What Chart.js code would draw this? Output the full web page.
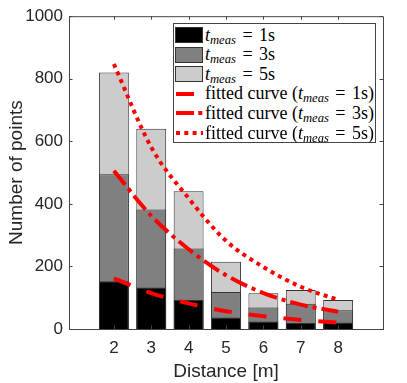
<!DOCTYPE html>
<html>
<head>
<meta charset="utf-8">
<script src="https://cdn.jsdelivr.net/npm/chart.js@4.4.1/dist/chart.umd.min.js"></script>
<style>
  html, body { margin: 0; padding: 0; background: #fff; }
  #wrap { position: relative; width: 407px; height: 383px; }
  #legend {
    position: absolute; left: 173px; top: 23px; width: 203px; height: 120px;
    box-sizing: border-box; border: 1px solid #444; background: #fff;
    font-family: "Liberation Serif", "DejaVu Serif", serif; font-size: 18px; color: #000;
  }
  .row { position: absolute; left: 0; height: 20px; display: flex; align-items: center; white-space: nowrap; }
  .row svg { margin-left: 1px; margin-right: 2px; flex: none; }
  .row sub { font-size: 0.7em; vertical-align: -0.25em; line-height: 0; }
  .eq { padding: 0 2px; }
</style>
</head>
<body>
<div id="wrap">
  <canvas id="chart" width="407" height="383"></canvas>
  <div id="legend"></div>
</div>
<script>
// data
const distances = [2, 3, 4, 5, 6, 7, 8];
const points1s = [153, 133, 93, 37, 24, 19, 21];
const points3s = [495, 382, 257, 118, 69, 81, 60];
const points5s = [820, 640, 440, 215, 114, 125, 93];
const fit1s = [162, 115, 82, 57, 41, 29, 20];
const fit3s = [506, 362, 255, 172, 115, 78, 55];
const fit5s = [847, 581, 418, 282, 198, 135, 93];
const yTicks = [0, 200, 400, 600, 800, 1000];

const toXY = (vals) => vals.map((v, i) => ({ x: distances[i], y: v }));

const axisColor = "#444";
const textColor = "#262626";

// top/right box lines and inward tick marks
const boxPlugin = {
  id: "box",
  afterDraw(chart) {
    const { ctx, chartArea: a, scales } = chart;
    ctx.save();
    ctx.strokeStyle = axisColor;
    ctx.lineWidth = 1;
    ctx.beginPath();
    ctx.moveTo(a.left, a.top + 0.5);
    ctx.lineTo(a.right + 0.5, a.top + 0.5);
    ctx.lineTo(a.right + 0.5, a.bottom);
    const tl = 3.5;
    distances.forEach((d) => {
      const px = Math.round(scales.x.getPixelForValue(d)) + 0.5;
      ctx.moveTo(px, a.bottom);
      ctx.lineTo(px, a.bottom - tl);
      ctx.moveTo(px, a.top);
      ctx.lineTo(px, a.top + tl);
    });
    yTicks.forEach((t) => {
      const py = Math.round(scales.y.getPixelForValue(t)) + 0.5;
      ctx.moveTo(a.left, py);
      ctx.lineTo(a.left + tl, py);
      ctx.moveTo(a.right, py);
      ctx.lineTo(a.right - tl, py);
    });
    ctx.stroke();
    ctx.restore();
  },
};

const barBase = {
  type: "bar",
  grouped: false,
  borderWidth: 1,
  borderColor: "#333",
  barPercentage: 0.8,
  categoryPercentage: 1,
};
const lineBase = {
  type: "line",
  borderColor: "#ff0000",
  borderWidth: 4,
  borderCapStyle: "butt",
  pointRadius: 0,
  fill: false,
  cubicInterpolationMode: "monotone",
  order: 0,
};

const datasets = [
  { ...barBase, label: "t_meas = 1s", data: toXY(points1s), backgroundColor: "#000000", order: 1 },
  { ...barBase, label: "t_meas = 3s", data: toXY(points3s), backgroundColor: "#808080", order: 2 },
  { ...barBase, label: "t_meas = 5s", data: toXY(points5s), backgroundColor: "#cccccc", order: 3 },
  { ...lineBase, label: "fitted curve (t_meas = 1s)", data: toXY(fit1s), borderDash: [18, 17] },
  { ...lineBase, label: "fitted curve (t_meas = 3s)", data: toXY(fit3s), borderDash: [18, 5, 4, 5] },
  { ...lineBase, label: "fitted curve (t_meas = 5s)", data: toXY(fit5s), borderDash: [4, 4.3] },
];

new Chart(document.getElementById("chart").getContext("2d"), {
  type: "bar",
  data: { datasets },
  options: {
    responsive: false,
    animation: false,
    layout: { padding: { top: 16, right: 24, left: 0, bottom: 0 } },
    plugins: { legend: { display: false }, tooltip: { enabled: false } },
    scales: {
      x: {
        type: "linear",
        min: 0.8,
        max: 9.2,
        offset: false,
        afterBuildTicks: (s) => { s.ticks = distances.map((v) => ({ value: v })); },
        afterFit: (s) => { s.height = 54; },
        grid: { display: false, drawTicks: false },
        border: { display: true, color: axisColor, width: 1 },
        ticks: { color: textColor, padding: 9, font: { family: "Liberation Sans", size: 17 } },
        title: {
          display: true, text: "Distance [m]", color: textColor,
          font: { family: "Liberation Sans", size: 19 }, padding: { top: 0, bottom: 0 },
        },
      },
      y: {
        min: 0,
        max: 1000,
        afterBuildTicks: (s) => { s.ticks = yTicks.map((v) => ({ value: v })); },
        afterFit: (s) => { s.width = 69; },
        grid: { display: false, drawTicks: false },
        border: { display: true, color: axisColor, width: 1 },
        ticks: {
          color: textColor, padding: 6, font: { family: "Liberation Sans", size: 17 },
          callback: (v) => String(v),
        },
        title: {
          display: true, text: "Number of points", color: textColor,
          font: { family: "Liberation Sans", size: 19 }, padding: { top: 5, bottom: 0 },
        },
      },
    },
  },
  plugins: [boxPlugin],
});

// legend with math-style labels
const legendRows = [
  { kind: "box", color: "#000000", pre: "", sec: "1s" },
  { kind: "box", color: "#808080", pre: "", sec: "3s" },
  { kind: "box", color: "#cccccc", pre: "", sec: "5s" },
  { kind: "line", dash: "18 17", pre: "fitted curve (", sec: "1s)" },
  { kind: "line", dash: "18 4.3 4 4.3", pre: "fitted curve (", sec: "3s)" },
  { kind: "line", dash: "4 4.3", pre: "fitted curve (", sec: "5s)" },
];
const legendEl = document.getElementById("legend");
legendRows.forEach((r, i) => {
  const row = document.createElement("div");
  row.className = "row";
  row.style.top = (1 + i * 19.6) + "px";
  const icon = r.kind === "box"
    ? `<svg width="28" height="16"><rect x="0.5" y="0.5" width="27" height="15" fill="${r.color}" stroke="#333" stroke-width="1"/></svg>`
    : `<svg width="28" height="16"><line x1="1" y1="8" x2="28" y2="8" stroke="#ff0000" stroke-width="4" stroke-dasharray="${r.dash}"/></svg>`;
  row.innerHTML = `${icon}<span>${r.pre}<i>t</i><sub><i>meas</i></sub><span class="eq"> = </span>${r.sec}</span>`;
  legendEl.appendChild(row);
});
</script>
</body>
</html>
